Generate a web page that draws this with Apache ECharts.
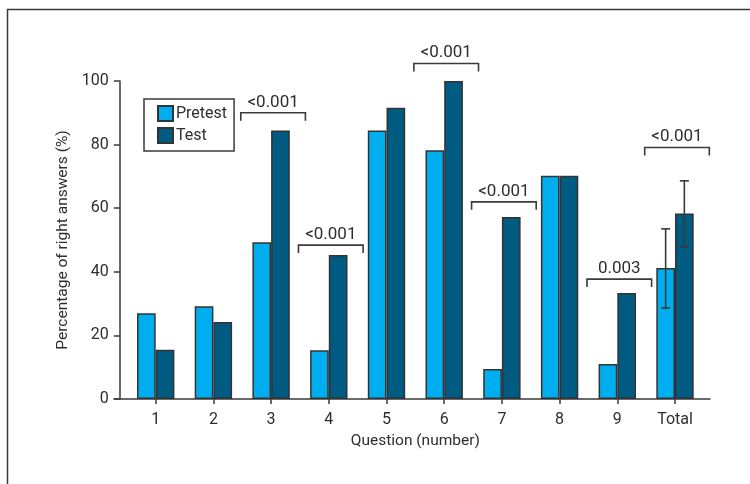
<!DOCTYPE html>
<html>
<head>
<meta charset="utf-8">
<script src="https://cdn.jsdelivr.net/npm/echarts@6/dist/echarts.min.js"></script>
<style>
  html, body { margin: 0; padding: 0; background: #fff; }
  #chart { width: 750px; height: 484px; }
</style>
</head>
<body>
<div id="chart"></div>
<script>
// Share of right answers per question, before (pretest) and after (test)
const categories = ['1', '2', '3', '4', '5', '6', '7', '8', '9', 'Total'];
const pretestValues = [27, 29.2, 49.3, 15.3, 84.4, 78.2, 9.4, 70.2, 11, 41.2];
const testValues = [15.5, 24.2, 84.4, 45.3, 91.6, 100, 57.2, 70.2, 33.3, 58.3];

// Spread of the totals (low, high)
const pretestTotalRange = [28.6, 53.5];
const testTotalRange = [47.8, 68.6];

// Significance brackets: category, height of the bracket, p-value text
const bracketCategories = ['3', '4', '6', '7', '9', 'Total'];
const bracketHeights = [90, 48.4, 105.5, 62, 37.7, 79.1];
const bracketLabels = ['<0.001', '<0.001', '<0.001', '<0.001', '0.003', '<0.001'];

const FONT = 'Roboto, "Liberation Sans", sans-serif';
const INK = '#2e2e2e';
const BAR_W = 18.7;
const PRE_COLOR = '#00aeef';
const TEST_COLOR = '#005b82';

const chart = echarts.init(document.getElementById('chart'), null, { renderer: 'canvas' });

function errorBar(range, side) {
  return {
    type: 'custom',
    z: 5,
    silent: true,
    renderItem: function (params, api) {
      const idx = categories.length - 1;
      const lo = api.coord([idx, range[0]]);
      const hi = api.coord([idx, range[1]]);
      const x = lo[0] + side * BAR_W / 2;
      const cap = 4.5;
      const style = { stroke: '#3a3a3a', lineWidth: 1.6 };
      return {
        type: 'group',
        children: [
          { type: 'line', shape: { x1: x, y1: lo[1], x2: x, y2: hi[1] }, style: style },
          { type: 'line', shape: { x1: x - cap, y1: lo[1], x2: x + cap, y2: lo[1] }, style: style },
          { type: 'line', shape: { x1: x - cap, y1: hi[1], x2: x + cap, y2: hi[1] }, style: style }
        ]
      };
    },
    data: [[categories.length - 1, range[0], range[1]]]
  };
}

const option = {
  animation: false,
  backgroundColor: '#fff',
  textStyle: { fontFamily: FONT, color: INK },
  graphic: [{
    type: 'rect',
    left: 5, top: 7,
    shape: { width: 900, height: 700 },
    style: { fill: 'none', stroke: '#3a3a3a', lineWidth: 1.5 },
    silent: true
  }],
  legend: {
    data: ['Pretest', 'Test'],
    orient: 'vertical',
    left: 144, top: 99,
    padding: [6, 7, 7, 13],
    itemGap: 5,
    itemWidth: 15, itemHeight: 15,
    icon: 'rect',
    borderColor: '#3a3a3a', borderWidth: 1.5,
    textStyle: { fontFamily: FONT, fontSize: 16, color: INK, lineHeight: 15, padding: [0, 0, 0, -2] }
  },
  grid: [
    { left: 126.85, right: 46.15, top: 81, bottom: 85 },
    { left: 114, right: 40, top: 81, bottom: 85 }
  ],
  xAxis: [{
    type: 'category',
    gridIndex: 0,
    data: categories,
    axisLine: { show: false },
    axisTick: { show: true, alignWithLabel: true, length: 5, lineStyle: { color: '#3a3a3a', width: 1.5 } },
    axisLabel: { fontFamily: FONT, fontSize: 16, color: INK, margin: 13 },
    name: 'Question (number)',
    nameLocation: 'middle',
    nameGap: 34,
    nameTextStyle: { fontFamily: FONT, fontSize: 15.5, color: INK }
  }, {
    type: 'value',
    gridIndex: 1,
    min: 0, max: 1,
    axisLine: { show: true, lineStyle: { color: '#3a3a3a', width: 1.5 } },
    axisTick: { show: false },
    axisLabel: { show: false },
    splitLine: { show: false }
  }],
  yAxis: [{
    type: 'value',
    gridIndex: 0,
    min: 0, max: 100, interval: 20,
    offset: 7,
    axisLine: { show: true, lineStyle: { color: '#3a3a3a', width: 1.5 } },
    axisTick: { show: true, length: 6, lineStyle: { color: '#3a3a3a', width: 1.5 } },
    axisLabel: { fontFamily: FONT, fontSize: 16, color: INK, margin: 11 },
    splitLine: { show: false },
    name: 'Percentage of right answers (%)',
    nameLocation: 'middle',
    nameGap: 41,
    nameTextStyle: { fontFamily: FONT, fontSize: 15.5, color: INK }
  }, {
    type: 'value',
    gridIndex: 1,
    show: false
  }],
  series: [{
    name: 'Pretest',
    type: 'bar',
    xAxisIndex: 0, yAxisIndex: 0,
    barWidth: BAR_W,
    barGap: '0%',
    itemStyle: { color: PRE_COLOR, borderColor: '#333', borderWidth: 1.5 },
    data: pretestValues
  }, {
    name: 'Test',
    type: 'bar',
    xAxisIndex: 0, yAxisIndex: 0,
    barWidth: BAR_W,
    barGap: '0%',
    itemStyle: { color: TEST_COLOR, borderColor: '#333', borderWidth: 1.5 },
    data: testValues
  },
  errorBar(pretestTotalRange, -1),
  errorBar(testTotalRange, 1),
  {
    type: 'custom',
    z: 6,
    silent: true,
    renderItem: function (params, api) {
      const cat = api.value(0);
      const top = api.coord([cat, api.value(1)]);
      const band = api.size([1, 0])[0];
      const cx = top[0] + 2;
      const half = band * 0.56;
      const leg = 8;
      return {
        type: 'group',
        children: [{
          type: 'polyline',
          shape: { points: [[cx - half, top[1] + leg], [cx - half, top[1]], [cx + half, top[1]], [cx + half, top[1] + leg]] },
          style: { stroke: '#3a3a3a', lineWidth: 1.6, fill: 'none' }
        }, {
          type: 'text',
          style: {
            x: cx, y: top[1] - 2,
            text: bracketLabels[params.dataIndex],
            align: 'center', verticalAlign: 'bottom',
            font: '17px ' + FONT,
            fill: INK
          }
        }]
      };
    },
    data: bracketCategories.map(function (c, i) { return [categories.indexOf(c), bracketHeights[i]]; })
  }]
};

chart.setOption(option);
</script>
</body>
</html>
